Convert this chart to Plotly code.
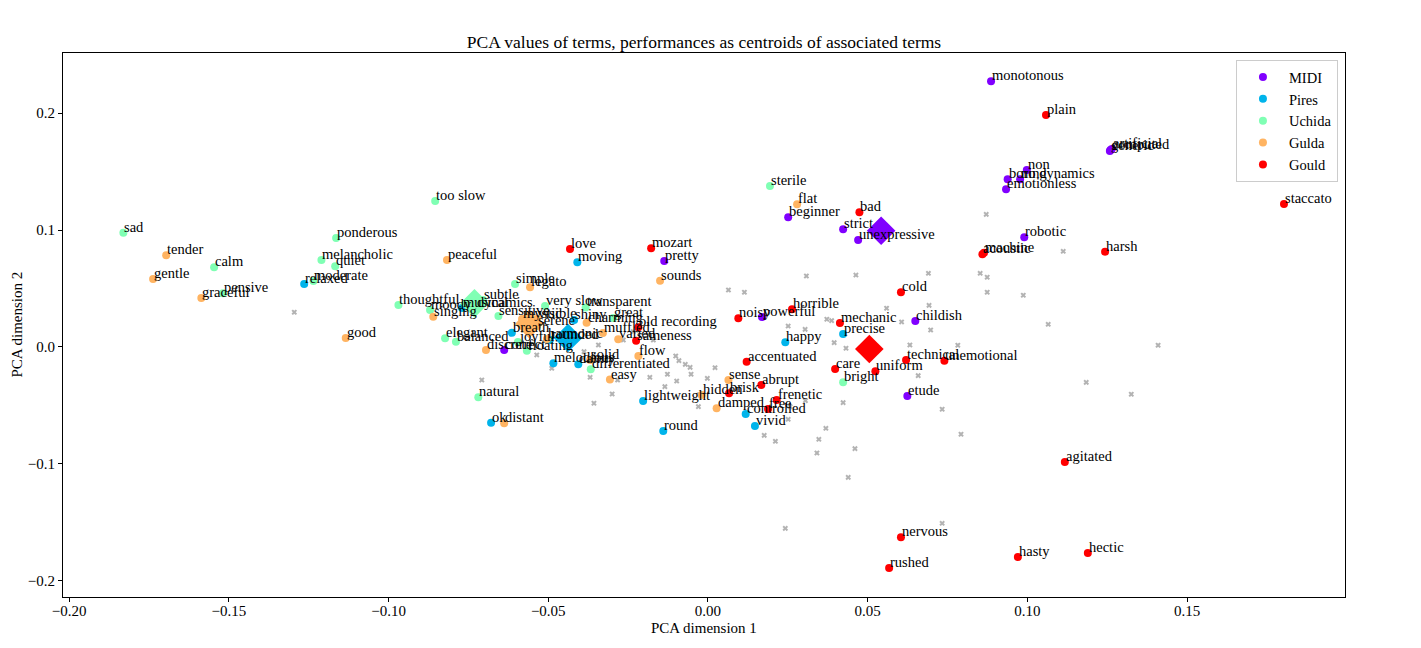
import plotly.graph_objects as go

# ---------------- data ----------------
performers = ["MIDI", "Pires", "Uchida", "Gulda", "Gould"]
colors = ["#8000ff", "#00b4eb", "#80ffb4", "#ffb462", "#ff0000"]

midi_terms = ["monotonous", "non", "boring", "no dynamics", "emotionless", "computed", "artificial",
              "generic", "robotic", "beginner", "strict", "unexpressive", "pretty", "powerful",
              "childish", "etude", "correct"]
midi_x = [0.0886, 0.0998, 0.0938, 0.0977, 0.0933, 0.1260, 0.1264, 0.1258, 0.0990, 0.0251, 0.0423,
          0.0470, -0.0137, 0.0169, 0.0649, 0.0624, -0.0638]
midi_y = [0.2271, 0.1513, 0.1433, 0.1433, 0.1348, 0.1684, 0.1692, 0.1675, 0.0938, 0.1109, 0.1006,
          0.0915, 0.0735, 0.0256, 0.0222, -0.0419, -0.0026]

pires_terms = ["relaxed", "moving", "musical", "breath", "melodious", "dainty", "ok", "lightweight",
               "round", "controlled", "vivid", "happy", "precise", "rounded", "shiny"]
pires_x = [-0.1264, -0.0409, -0.0770, -0.0614, -0.0484, -0.0406, -0.0679, -0.0203, -0.0140, 0.0118,
           0.0147, 0.0242, 0.0423, -0.0495, -0.0419]
pires_y = [0.0538, 0.0724, 0.0333, 0.0122, -0.0139, -0.0148, -0.0647, -0.0462, -0.0718, -0.0573,
           -0.0675, 0.0040, 0.0111, 0.0060, 0.0231]

uchida_terms = ["sad", "calm", "pensive", "ponderous", "melancholic", "quiet", "moderate", "too slow",
                "thoughtful", "moody", "subtle", "sensitive", "elegant", "balanced", "joyful",
                "floating", "natural", "simple", "very slow", "transparent", "great",
                "differentiated", "sterile", "bright", "dynamics"]
uchida_x = [-0.1830, -0.1546, -0.1518, -0.1164, -0.1210, -0.1167, -0.1235, -0.0854, -0.0969, -0.0870,
            -0.0704, -0.0656, -0.0823, -0.0789, -0.0595, -0.0567, -0.0719, -0.0604, -0.0510, -0.0383,
            -0.0297, -0.0367, 0.0194, 0.0423, -0.0725]
uchida_y = [0.0977, 0.0681, 0.0459, 0.0932, 0.0744, 0.0690, 0.0564, 0.1248, 0.0359, 0.0316,
            0.0402, 0.0265, 0.0074, 0.0045, 0.0043, -0.0032, -0.0430, 0.0538, 0.0350, 0.0338,
            0.0248, -0.0191, 0.1376, -0.0302, 0.0330]

gulda_terms = ["tender", "gentle", "graceful", "good", "peaceful", "legato", "singing", "mystic",
               "visible", "serene", "discrete", "harmonic", "charming", "muffled", "varied", "solid",
               "flow", "easy", "sounds", "flat", "distant", "sense", "hidden", "damped"]
gulda_x = [-0.1696, -0.1737, -0.1586, -0.1134, -0.0817, -0.0557, -0.0860, -0.0582, -0.0535, -0.0535,
           -0.0695, -0.0504, -0.0380, -0.0329, -0.0281, -0.0369, -0.0218, -0.0307, -0.0150, 0.0279,
           -0.0638, 0.0064, -0.0020, 0.0027]
gulda_y = [0.0784, 0.0581, 0.0419, 0.0077, 0.0744, 0.0510, 0.0259, 0.0239, 0.0239, 0.0179,
           -0.0026, 0.0068, 0.0208, 0.0120, 0.0066, -0.0111, -0.0077, -0.0278, 0.0567, 0.1220,
           -0.0652, -0.0282, -0.0410, -0.0524]

gould_terms = ["love", "mozart", "old recording", "sameness", "noisy", "horrible", "accentuated",
               "brisk", "abrupt", "frenetic", "free", "mechanic", "care", "uniform", "technical",
               "unemotional", "cold", "bad", "plain", "acoustic", "machine", "harsh", "staccato",
               "agitated", "hasty", "hectic", "nervous", "rushed"]
gould_x = [-0.0432, -0.0178, -0.0218, -0.0225, 0.0095, 0.0263, 0.0121, 0.0066, 0.0167, 0.0215,
           0.0188, 0.0413, 0.0398, 0.0524, 0.0620, 0.0740, 0.0604, 0.0474, 0.1058, 0.0859, 0.0864,
           0.1243, 0.1803, 0.1117, 0.0970, 0.1189, 0.0604, 0.0567]
gould_y = [0.0838, 0.0844, 0.0168, 0.0054, 0.0245, 0.0322, -0.0126, -0.0396, -0.0325, -0.0453,
           -0.0530, 0.0205, -0.0188, -0.0208, -0.0111, -0.0117, 0.0468, 0.1151, 0.1983, 0.0792,
           0.0806, 0.0815, 0.1222, -0.0983, -0.1795, -0.1761, -0.1626, -0.1889]

centroid_x = [0.0542, -0.0438, -0.0731, -0.0560, 0.0505]
centroid_y = [0.0994, 0.0077, 0.0373, 0.0197, -0.0017]

other_x = [-0.1295, 0.0871, 0.1112, 0.0852, 0.0874, 0.0874, 0.0987, 0.1065, 0.1409, 0.1184, 0.1325,
           0.0308, 0.0463, 0.0690, 0.0064, 0.0114, 0.0692, 0.0559, 0.0372, 0.0387, 0.0606, 0.0251,
           0.0304, 0.0697, 0.0432, 0.0395, 0.0632, 0.0782, -0.0101, -0.0091, -0.0071, -0.0056,
           0.0022, -0.0127, -0.0053, -0.0182, -0.0002, -0.0098, -0.0135, 0.0658, -0.0300, -0.0357,
           -0.0030, 0.0257, 0.0305, 0.0251, 0.0423, 0.0733, 0.0792, 0.0369, 0.0347, 0.0176, 0.0211,
           0.0341, 0.0460, 0.0439, 0.0733, 0.0242, -0.0369, -0.0283, -0.0388, -0.0343, -0.0265,
           -0.0171, -0.0234, -0.0708, -0.0536, -0.0489]
other_y = [0.0297, 0.1134, 0.0818, 0.0630, 0.0596, 0.0468, 0.0442, 0.0194, 0.0015, -0.0302, -0.0404,
           0.0607, 0.0615, 0.0630, 0.0487, 0.0468, 0.0356, 0.0331, 0.0237, 0.0225, 0.0214, 0.0179,
           0.0151, 0.0145, -0.0011, 0.0037, 0.0017, 0.0015, -0.0077, -0.0117, -0.0148, -0.0174,
           -0.0177, -0.0233, -0.0233, -0.0259, -0.0268, -0.0291, -0.0339, -0.0245, -0.0402, -0.0481,
           -0.0510, -0.0510, -0.0459, -0.0618, -0.0476, -0.0532, -0.0746, -0.0695, -0.0789, -0.0755,
           -0.0806, -0.0906, -0.0869, -0.1114, -0.1507, -0.1550, -0.0259, -0.0282, -0.0040, 0.0017,
           0.0060, 0.0060, 0.0131, -0.0282, -0.0068, -0.0182]

x_ticks = [-0.20, -0.15, -0.10, -0.05, 0.00, 0.05, 0.10, 0.15]
y_ticks = [-0.2, -0.1, 0.0, 0.1, 0.2]

# ---------------- figure ----------------
FONT = "Liberation Serif"
groups = [
    (midi_terms, midi_x, midi_y),
    (pires_terms, pires_x, pires_y),
    (uchida_terms, uchida_x, uchida_y),
    (gulda_terms, gulda_x, gulda_y),
    (gould_terms, gould_x, gould_y),
]

fig = go.Figure()

fig.add_trace(go.Scatter(x=other_x, y=other_y, mode="markers",
                         marker=dict(symbol="x", size=5, color="#b3b3b3", line=dict(width=0)),
                         showlegend=False, hoverinfo="skip"))

annotations = []
for name, col, (terms, xs, ys) in zip(performers, colors, groups):
    fig.add_trace(go.Scatter(x=xs, y=ys, mode="markers", name=name, text=terms,
                             marker=dict(size=8, color=col, line=dict(width=0))))
    for t, xv, yv in zip(terms, xs, ys):
        annotations.append(dict(x=xv, y=yv, xref="x", yref="y", text=t, showarrow=False,
                                xanchor="left", yanchor="bottom", yshift=-4, xshift=-1,
                                font=dict(family=FONT, size=14.5, color="black")))

for i, (name, col) in enumerate(zip(performers, colors)):
    fig.add_trace(go.Scatter(x=[centroid_x[i]], y=[centroid_y[i]], mode="markers",
                             marker=dict(symbol="diamond", size=22, color=col, line=dict(width=0)),
                             showlegend=False, name=name + " centroid"))

# axis titles placed as paper annotations for exact placement
annotations.append(dict(text="PCA dimension 1", x=0.5, y=-0.057, xref="paper", yref="paper",
                        xanchor="center", yanchor="middle", showarrow=False,
                        font=dict(family=FONT, size=15, color="black")))
annotations.append(dict(text="PCA dimension 2", x=-0.0362, y=0.5, xref="paper", yref="paper",
                        xanchor="center", yanchor="middle", showarrow=False, textangle=-90,
                        font=dict(family=FONT, size=15, color="black")))

# page body has an 8px margin, so the figure is sized / offset to compensate
fig.update_layout(
    width=1413, height=640,
    margin=dict(l=55, r=76, t=45, b=51),
    paper_bgcolor="white", plot_bgcolor="white",
    font=dict(family=FONT, size=15, color="black"),
    title=dict(text="PCA values of terms, performances as centroids of associated terms",
               x=0.5, xref="paper", xanchor="center", y=1 - 34 / 640, yanchor="middle",
               font=dict(family=FONT, size=17.5, color="black")),
    annotations=annotations,
    legend=dict(x=0.9945, y=0.987, xanchor="right", yanchor="top",
                bgcolor="rgba(255,255,255,0.8)", bordercolor="#cccccc", borderwidth=1,
                font=dict(family=FONT, size=14.5), itemwidth=42, tracegroupgap=0),
    showlegend=True,
)
fig.update_xaxes(range=[-0.2019, 0.1994], tickvals=x_ticks, tickformat=".2f", automargin=False,
                 showgrid=False, zeroline=False, showline=True, mirror=True, linecolor="black",
                 linewidth=1, ticks="outside", ticklen=4, tickcolor="black",
                 ticklabelstandoff=-4, tickfont=dict(family=FONT, size=15))
fig.update_yaxes(range=[-0.2137, 0.2513], tickvals=y_ticks, tickformat=".1f", automargin=False,
                 showgrid=False, zeroline=False, showline=True, mirror=True, linecolor="black",
                 linewidth=1, ticks="outside", ticklen=4, tickcolor="black",
                 tickfont=dict(family=FONT, size=15))

fig.write_html("out.html")
